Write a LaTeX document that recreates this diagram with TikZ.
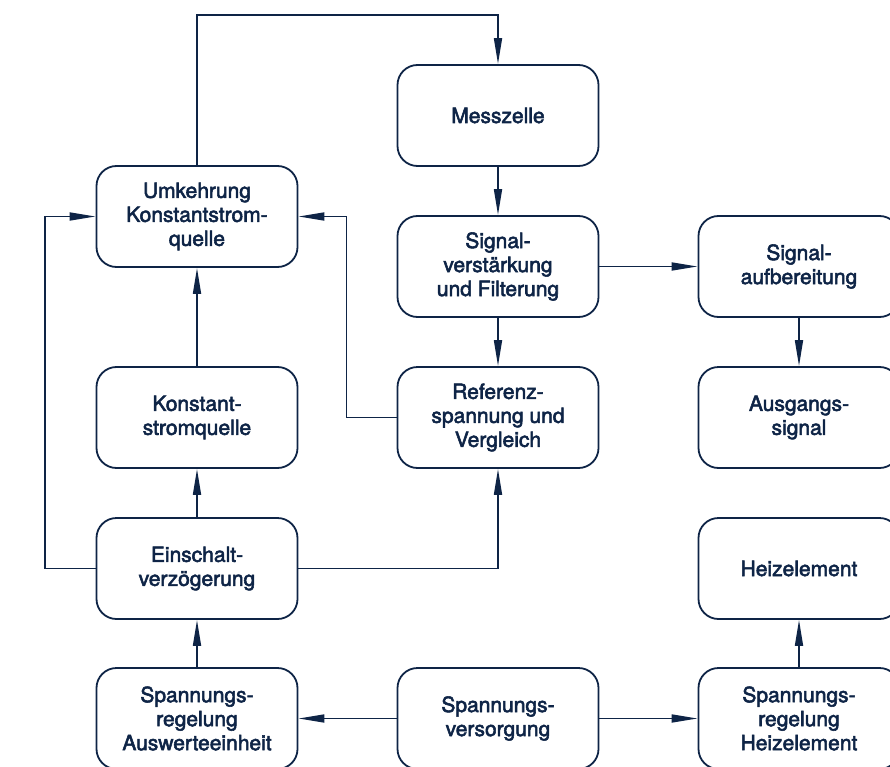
\documentclass[tikz,border=0pt]{standalone}
\usepackage{fontspec}
\setmainfont{TeX Gyre Heros}
\newfontfamily\blkfont{TeX Gyre Heros}[FakeBold=2.6]
\usepackage{tikz}
\usetikzlibrary{arrows.meta}
\definecolor{navy}{RGB}{14,36,70}
\tikzset{blk/.style={draw=navy, line width=1.8pt, rounded corners=20pt, minimum width=201pt, minimum height=101pt, align=center, text=navy, font=\blkfont\fontsize{21}{24}\selectfont}}
\tikzset{arr/.style={draw=navy, line width=1.7pt, -{Triangle[length=26pt,width=8pt]}}}

\begin{document}
\begin{tikzpicture}[x=1pt,y=-1pt]
        \clip (0,0) rectangle (890,767);
        \node[blk] (mess) at (498,115.5) {Messzelle};
        \node[blk] (umk) at (197,216.5) {Umkehrung\\Konstantstrom-\\quelle};
        \node[blk] (sigv) at (498,266.5) {Signal-\\verstärkung\\und Filterung};
        \node[blk] (siga) at (799,266.5) {Signal-\\aufbereitung};
        \node[blk] (konst) at (197,417.5) {Konstant-\\stromquelle};
        \node[blk] (ref) at (498,417.5) {Referenz-\\spannung und\\Vergleich};
        \node[blk] (ausg) at (799,417.5) {Ausgangs-\\signal};
        \node[blk] (ein) at (197,568.5) {Einschalt-\\verzögerung};
        \node[blk] (heiz) at (799,568.5) {Heizelement};
        \node[blk] (spa) at (197,718.5) {Spannungs-\\regelung\\Auswerteeinheit};
        \node[blk] (spv) at (498,718.5) {Spannungs-\\versorgung};
        \node[blk] (sph) at (799,718.5) {Spannungs-\\regelung\\Heizelement};
        \coordinate (loop) at (0,15);
        % signal path
        \draw[arr] (umk) -- (umk |- loop) -| (mess);
        \draw[arr] (mess) -- (sigv);
        \draw[arr] (sigv) -- (siga);
        \draw[arr] (siga) -- (ausg);
        \draw[arr] (sigv) -- (ref);
        \draw[arr] (ref.west) -- ++(-50,0) |- (umk.east);
        % supply path
        \draw[arr] (konst) -- (umk);
        \draw[arr] (ein) -- (konst);
        \draw[arr] (ein.west) -- ++(-50.5,0) |- (umk.west);
        \draw[arr] (ein.east) -| (ref.south);
        \draw[arr] (spa) -- (ein);
        \draw[arr] (spv) -- (spa);
        \draw[arr] (spv) -- (sph);
        \draw[arr] (sph) -- (heiz);
      \end{tikzpicture}
\end{document}
